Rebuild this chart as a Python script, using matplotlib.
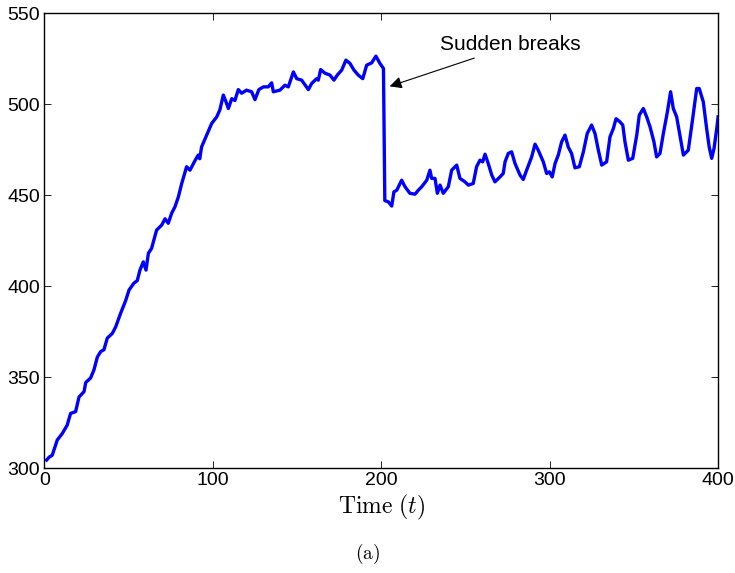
import matplotlib
matplotlib.use("Agg")
import matplotlib.pyplot as plt

plt.rcParams['font.family'] = ['Liberation Sans', 'DejaVu Sans']
plt.rcParams['mathtext.fontset'] = 'cm'

t_vals = [1.3, 2.8, 4.6, 6, 7.6, 10.6, 13.5, 15.5, 18.5, 20.5, 23.5, 24.5, 27.4, 29.4, 31.4, 33.4, 35.3, 37.3,
          40.3, 42.3, 45.2, 48.2, 50.2, 53.1, 55.1, 56.7, 58.7, 60.3, 61.7, 63.6, 66.6, 69.6, 71.6, 73.5, 75.5,
          77.5, 79.5, 81.5, 84.4, 86.4, 89.4, 91.3, 92.2, 93.3, 96.3, 99.3, 102.3, 104.2, 106.2, 107.5, 109.2,
          111.2, 113.1, 115.1, 117.1, 120, 123, 125, 127.3, 130, 132.9, 134.9, 135.9, 139.8, 142.8, 144.8,
          147.8, 149.8, 152.7, 156.7, 158.7, 161.6, 162.6, 164, 166.6, 169.5, 171.9, 173.9, 176.5, 179, 181.4,
          183.8, 186.3, 189, 191.3, 194.3, 196.8, 199.2, 201.3, 202.1, 204.2, 206.2, 207.5, 209.2, 212.1,
          214.1, 217, 220, 222, 224, 227, 228.9, 229.9, 231.9, 233.3, 234.9, 236.8, 239.8, 241.8, 244.8,
          246.7, 249.7, 251.7, 254.6, 256.6, 258.6, 260.2, 261.6, 263.5, 265.6, 267.5, 270.5, 272.4, 273.5,
          275.4, 277.4, 279.4, 282.4, 284.3, 286.3, 289.3, 291.3, 293.2, 296.2, 298.2, 299.8, 301.5, 303.2,
          305.1, 307.1, 309.1, 311, 313, 315, 317.6, 320, 322.3, 324.9, 326.9, 328.9, 330.9, 333.8, 335.8,
          337.8, 339.4, 341.7, 343.4, 344.7, 346.7, 349.3, 351.7, 353.2, 355.6, 357.6, 359.6, 361.9, 363.5,
          365.5, 367.5, 369.9, 371.8, 373.4, 375.4, 378.4, 379.4, 382.3, 384.9, 387.3, 388.8, 391.2, 393.2,
          394.7, 396.2, 397.6, 399.2, 400]
y_vals = [304.4, 306, 307, 311, 315.4, 319, 323.6, 330, 331, 339, 342, 347, 349.5, 354, 361, 364, 365, 371.4,
          374, 377.6, 385, 392, 397.8, 401.6, 403, 408.8, 413.3, 408.8, 418, 420.7, 430.8, 433.5, 437, 434.5, 440,
          443.6, 449, 456.4, 465.6, 463.7, 469, 472, 470, 476.5, 483, 489.4, 493, 497, 505, 502, 497.6,
          503, 502, 508, 506, 507.7, 506.8, 502.5, 508, 509.5, 509.5, 511.7, 506.8, 507.7, 510.4, 509.5,
          517.7, 514, 513.2, 508, 511.4, 514, 513.2, 519, 517, 516, 513.2, 516, 518.7, 524.2, 522.4,
          518.7, 516, 514, 521.4, 522.7, 526.4, 522.4, 519.6, 447, 446.3, 444, 451.8, 452.7, 458.2,
          454.6, 451, 450.5, 452.7, 454.6, 458.2, 463.7, 459.2, 459.2, 451, 455.5, 451, 454.6, 463.7, 466.5,
          459.2, 457.3, 455.5, 456.4, 465.6, 469.2, 468.3, 472.5, 467.4, 461, 457.3, 460, 461.9, 468.3,
          472.9, 473.8, 467.4, 461, 458.6, 463.7, 471, 478, 474.7, 468.3, 461.9, 462.8, 460, 467.4,
          472, 479.3, 483, 476.5, 472.9, 465, 465.6, 473.8, 483.9, 488.5, 483.9, 474.7, 466.5, 468.3, 482,
          486.6, 492, 490.3, 488.5, 479.3, 469.2, 470.2, 483, 494, 497.6, 493, 487.5, 479.3, 471,
          472.9, 483.9, 495.8, 506.8, 497.6, 493, 477.5, 472, 474.7, 492, 508.6, 508.6, 501.3, 486.6,
          476.5, 470.2, 475.7, 486.6, 493]

x_ticks = [0, 100, 200, 300, 400]
y_ticks = [300, 350, 400, 450, 500, 550]

fig = plt.figure(figsize=(7.35, 5.73), dpi=100)
ax = fig.add_axes([0.0605, 0.1832, 0.9165, 0.7938])
ax.plot(t_vals, y_vals, color='#0000ff', lw=2.4, solid_joinstyle='round')
ax.set_xlim(0, 400)
ax.set_ylim(300, 550)
ax.set_xticks(x_ticks)
ax.set_yticks(y_ticks)
ax.tick_params(direction='in', top=True, right=True, length=5, width=0.6,
               labelsize=14, pad=3)
for s in ax.spines.values():
    s.set_linewidth(1.0)

ax.set_xlabel(r'$\mathrm{Time}\ (t)$', fontsize=17, labelpad=3)
fig.text(0.5, 0.012, r'$\mathrm{(a)}$', fontsize=14, ha='center', va='bottom')

ax.annotate('', xy=(203.4, 509.3), xytext=(256.8, 525.8),
            arrowprops=dict(arrowstyle='-|>', color='black', lw=0.8, mutation_scale=18))
ax.text(234.9, 533, 'Sudden breaks', fontsize=15, ha='left', va='center')

fig.savefig('out.png', dpi=100)
